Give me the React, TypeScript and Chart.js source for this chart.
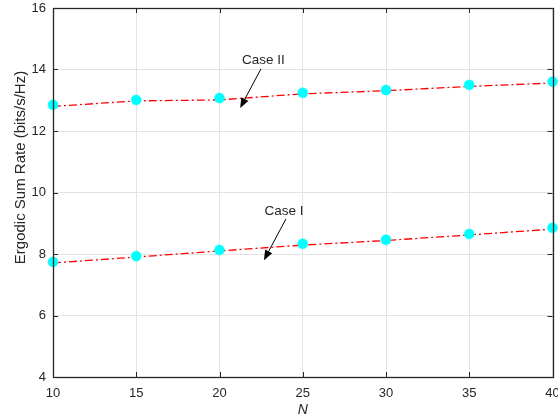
import React, { useEffect, useRef } from "react";
import { Chart, registerables } from "chart.js";
Chart.register(...registerables);

const nValues = [10, 15, 20, 25, 30, 35, 40];
const case2Markers = [12.85, 13.01, 13.07, 13.24, 13.33, 13.5, 13.6];
const case2Line = [12.8, 12.98, 13.01, 13.21, 13.31, 13.45, 13.56];
const case1Markers = [7.74, 7.93, 8.13, 8.33, 8.46, 8.65, 8.85];
const case1Line = [7.71, 7.9, 8.1, 8.29, 8.44, 8.62, 8.81];
const xTicks = [10, 15, 20, 25, 30, 35, 40];
const yTicks = [4, 6, 8, 10, 12, 14, 16];
const yTitle = "Ergodic Sum Rate (bits/s/Hz)";
const annotations = [
  { label: "Case II", textX: 22.64, textY: 14.31, tailX: 22.49, tailY: 14.02, tipX: 21.24, tipY: 12.75 },
  { label: "Case I", textX: 23.87, textY: 9.38, tailX: 23.99, tailY: 9.14, tipX: 22.67, tipY: 7.8 },
];

const FONT = "'Liberation Sans', Arial, sans-serif";
const AXIS = "#262626";

const framePlugin = {
  id: "frame",
  afterDraw(chart: any) {
    const { ctx, chartArea: a, scales } = chart;
    const xs = scales.x, ys = scales.y;
    ctx.save();
    ctx.strokeStyle = AXIS;
    ctx.lineWidth = 1;
    ctx.beginPath();
    xTicks.forEach((t) => {
      const px = Math.round(xs.getPixelForValue(t)) + 0.5;
      ctx.moveTo(px, a.bottom);
      ctx.lineTo(px, a.bottom - 5);
      ctx.moveTo(px, a.top);
      ctx.lineTo(px, a.top + 5);
    });
    yTicks.forEach((t) => {
      const py = Math.round(ys.getPixelForValue(t)) + 0.5;
      ctx.moveTo(a.left, py);
      ctx.lineTo(a.left + 5, py);
      ctx.moveTo(a.right, py);
      ctx.lineTo(a.right - 5, py);
    });
    ctx.stroke();
    ctx.lineWidth = 1.3;
    ctx.strokeRect(Math.round(a.left) + 0.5, Math.round(a.top) + 0.5, Math.round(a.right - a.left), Math.round(a.bottom - a.top));

    // y axis title
    ctx.save();
    ctx.translate(21, (a.top + a.bottom) / 2 - 25);
    ctx.rotate(-Math.PI / 2);
    ctx.fillStyle = AXIS;
    ctx.font = `15px ${FONT}`;
    ctx.textAlign = "center";
    ctx.textBaseline = "middle";
    ctx.fillText(yTitle, 0, 0);
    ctx.restore();

    annotations.forEach((an) => {
      const tx = xs.getPixelForValue(an.textX);
      const ty = ys.getPixelForValue(an.textY);
      ctx.fillStyle = AXIS;
      ctx.font = `13.5px ${FONT}`;
      ctx.textAlign = "center";
      ctx.textBaseline = "middle";
      ctx.fillText(an.label, tx, ty);
      const x0 = xs.getPixelForValue(an.tailX);
      const y0 = ys.getPixelForValue(an.tailY);
      const x1 = xs.getPixelForValue(an.tipX);
      const y1 = ys.getPixelForValue(an.tipY);
      const ang = Math.atan2(y1 - y0, x1 - x0);
      const L = 10, W = 4;
      const bx = x1 - L * Math.cos(ang), by = y1 - L * Math.sin(ang);
      ctx.strokeStyle = "#000";
      ctx.lineWidth = 1;
      ctx.beginPath();
      ctx.moveTo(x0, y0);
      ctx.lineTo(bx, by);
      ctx.stroke();
      ctx.fillStyle = "#000";
      ctx.beginPath();
      ctx.moveTo(x1, y1);
      ctx.lineTo(bx + W * Math.sin(ang), by - W * Math.cos(ang));
      ctx.lineTo(bx - W * Math.sin(ang), by + W * Math.cos(ang));
      ctx.closePath();
      ctx.fill();
    });
    ctx.restore();
  },
};

export default function App() {
  const ref = useRef<HTMLCanvasElement | null>(null);
  useEffect(() => {
    if (!ref.current) return;
    const toXY = (ys: number[]) => nValues.map((n, i) => ({ x: n, y: ys[i] }));
    const lineDs = (data: number[]) => ({
      data: toXY(data),
      borderColor: "#ff0000",
      borderWidth: 1.3,
      borderDash: [8, 3, 2, 3],
      pointRadius: 0,
      fill: false,
      showLine: true,
      clip: false as any,
      order: 2,
    });
    const markDs = (data: number[]) => ({
      data: toXY(data),
      showLine: false,
      pointRadius: 5,
      pointBackgroundColor: "#00ffff",
      pointBorderColor: "#00ffff",
      pointBorderWidth: 0.5,
      clip: false as any,
      order: 1,
    });
    const chart = new Chart(ref.current, {
      type: "scatter",
      data: {
        datasets: [lineDs(case2Line), markDs(case2Markers), lineDs(case1Line), markDs(case1Markers)],
      },
      plugins: [framePlugin],
      options: {
        animation: false,
        responsive: false,
        layout: { padding: { left: 0, top: 8, right: 3, bottom: 0 } },
        plugins: { legend: { display: false }, tooltip: { enabled: false } },
        scales: {
          x: {
            type: "linear",
            min: 10,
            max: 40,
            afterBuildTicks: (s: any) => { s.ticks = xTicks.map((v) => ({ value: v })); },
            afterFit: (s: any) => { s.height = 42; s.paddingLeft = 0; s.paddingRight = 0; },
            grid: { color: "#e3e3e3", drawTicks: false },
            border: { display: false },
            ticks: { color: AXIS, font: { family: FONT, size: 13 }, padding: 9, maxRotation: 0 },
            title: { display: true, text: "N", color: AXIS, font: { family: FONT, size: 14, style: "italic" }, padding: { top: 0, bottom: 0 } },
          },
          y: {
            type: "linear",
            min: 4,
            max: 16,
            afterBuildTicks: (s: any) => { s.ticks = yTicks.map((v) => ({ value: v })); },
            afterFit: (s: any) => { s.width = 53; s.paddingTop = 0; s.paddingBottom = 0; },
            grid: { color: "#e3e3e3", drawTicks: false },
            border: { display: false },
            ticks: { color: AXIS, font: { family: FONT, size: 13 }, padding: 7 },
            title: { display: false },
          },
        },
      } as any,
    });
    return () => chart.destroy();
  }, []);
  return (
    <div style={{ position: "absolute", left: 0, top: 0, width: 558, height: 419, background: "#fff" }}>
      <canvas ref={ref} width={558} height={419} style={{ display: "block" }} />
    </div>
  );
}
